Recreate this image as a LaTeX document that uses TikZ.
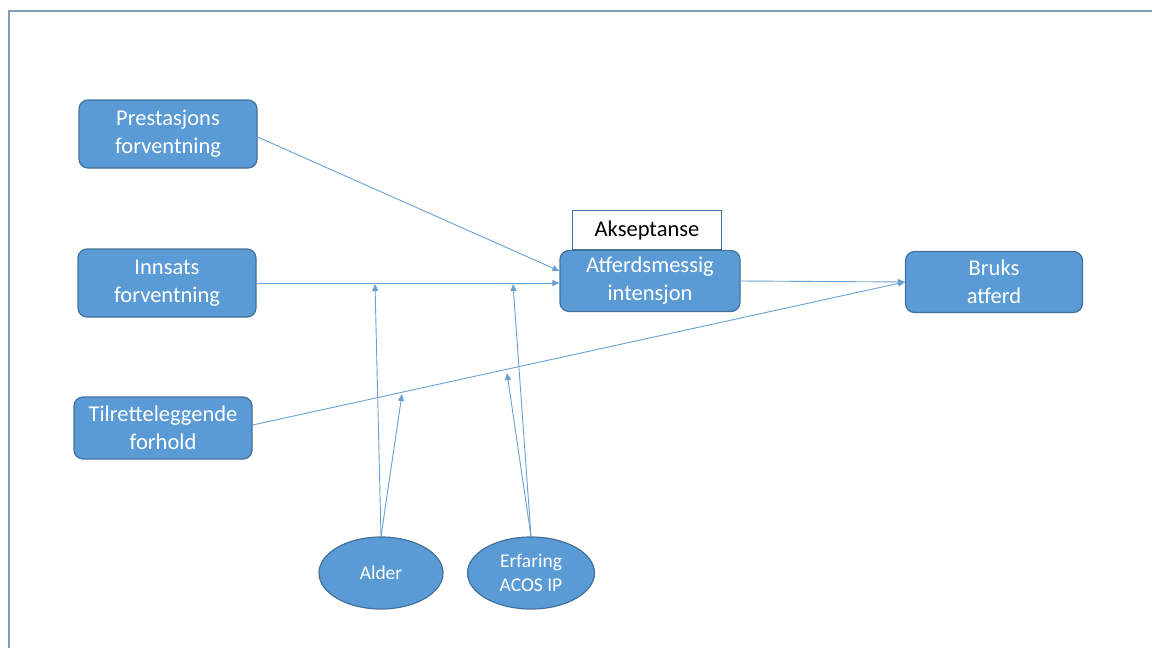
\documentclass[tikz,border=0pt]{standalone}
\usepackage{fontspec}
\setmainfont{Carlito}
\usetikzlibrary{arrows.meta,shapes.geometric}
\definecolor{boxfill}{HTML}{5B9BD5}
\definecolor{boxline}{HTML}{41719C}
\definecolor{linkcol}{HTML}{6A9FD3}
\definecolor{framecol}{HTML}{7F9DB9}
\tikzset{
  bluebox/.style={draw=boxline, line width=1.2pt, fill=boxfill, rounded corners=9pt,
    text=white, align=center, inner sep=0pt, font=\fontsize{22.5}{28}\selectfont},
  whitebox/.style={draw=boxline, line width=1.2pt, fill=white, text=black,
    inner sep=0pt, font=\fontsize{22.5}{28}\selectfont},
  blueoval/.style={ellipse, draw=boxline, line width=1.2pt, fill=boxfill,
    text=white, align=center, inner sep=0pt, font=\fontsize{19.5}{24}\selectfont},
  link/.style={draw=linkcol, line width=0.9pt, -{Triangle[length=7pt,width=6pt]}}
}
\begin{document}
\begin{tikzpicture}[x=1pt,y=-1pt]
\useasboundingbox (0,0) rectangle (1152,648);
\draw[framecol, line width=2pt] (9,648) -- (9,11) -- (1152,11);
% nodes
\node[bluebox, minimum width=178pt, minimum height=68pt] (pf) at (168,134) {Prestasjons\\forventning};
\node[bluebox, minimum width=178pt, minimum height=68pt] (if) at (167,283) {Innsats\\forventning};
\node[bluebox, minimum width=178pt, minimum height=62pt] (tf) at (163,428) {Tilretteleggende\\forhold};
\node[whitebox, minimum width=149pt, minimum height=39pt] (ak) at (647,230) {Akseptanse};
\node[bluebox, minimum width=180pt, minimum height=61pt] (ai) at (650,281) {Atferdsmessig\\intensjon};
\node[bluebox, minimum width=177pt, minimum height=61pt] (ba) at (994,282) {Bruks\\atferd};
\node[blueoval, minimum width=124pt, minimum height=72pt] (al) at (381,573) {Alder};
\node[blueoval, minimum width=127pt, minimum height=72pt] (ef) at (531,573) {Erfaring\\ACOS IP};
% moderation target points
\coordinate (m1) at (375,284);
\coordinate (m2) at (402,394);
\coordinate (m3) at (513,284);
\coordinate (m4) at (507,373);
% connectors
\draw[link] (pf.east |- 0,137) -- (ai.west |- 0,271);
\draw[link] (if.east) -- (ai.west |- if.east);
\draw[link] (ai.east) -- (ba.west);
\draw[link] (tf.east |- 0,425) -- (ba.west);
\draw[link] (al.north) -- (m1);
\draw[link] (al.north) -- (m2);
\draw[link] (ef.north) -- (m3);
\draw[link] (ef.north) -- (m4);
\end{tikzpicture}
\end{document}
